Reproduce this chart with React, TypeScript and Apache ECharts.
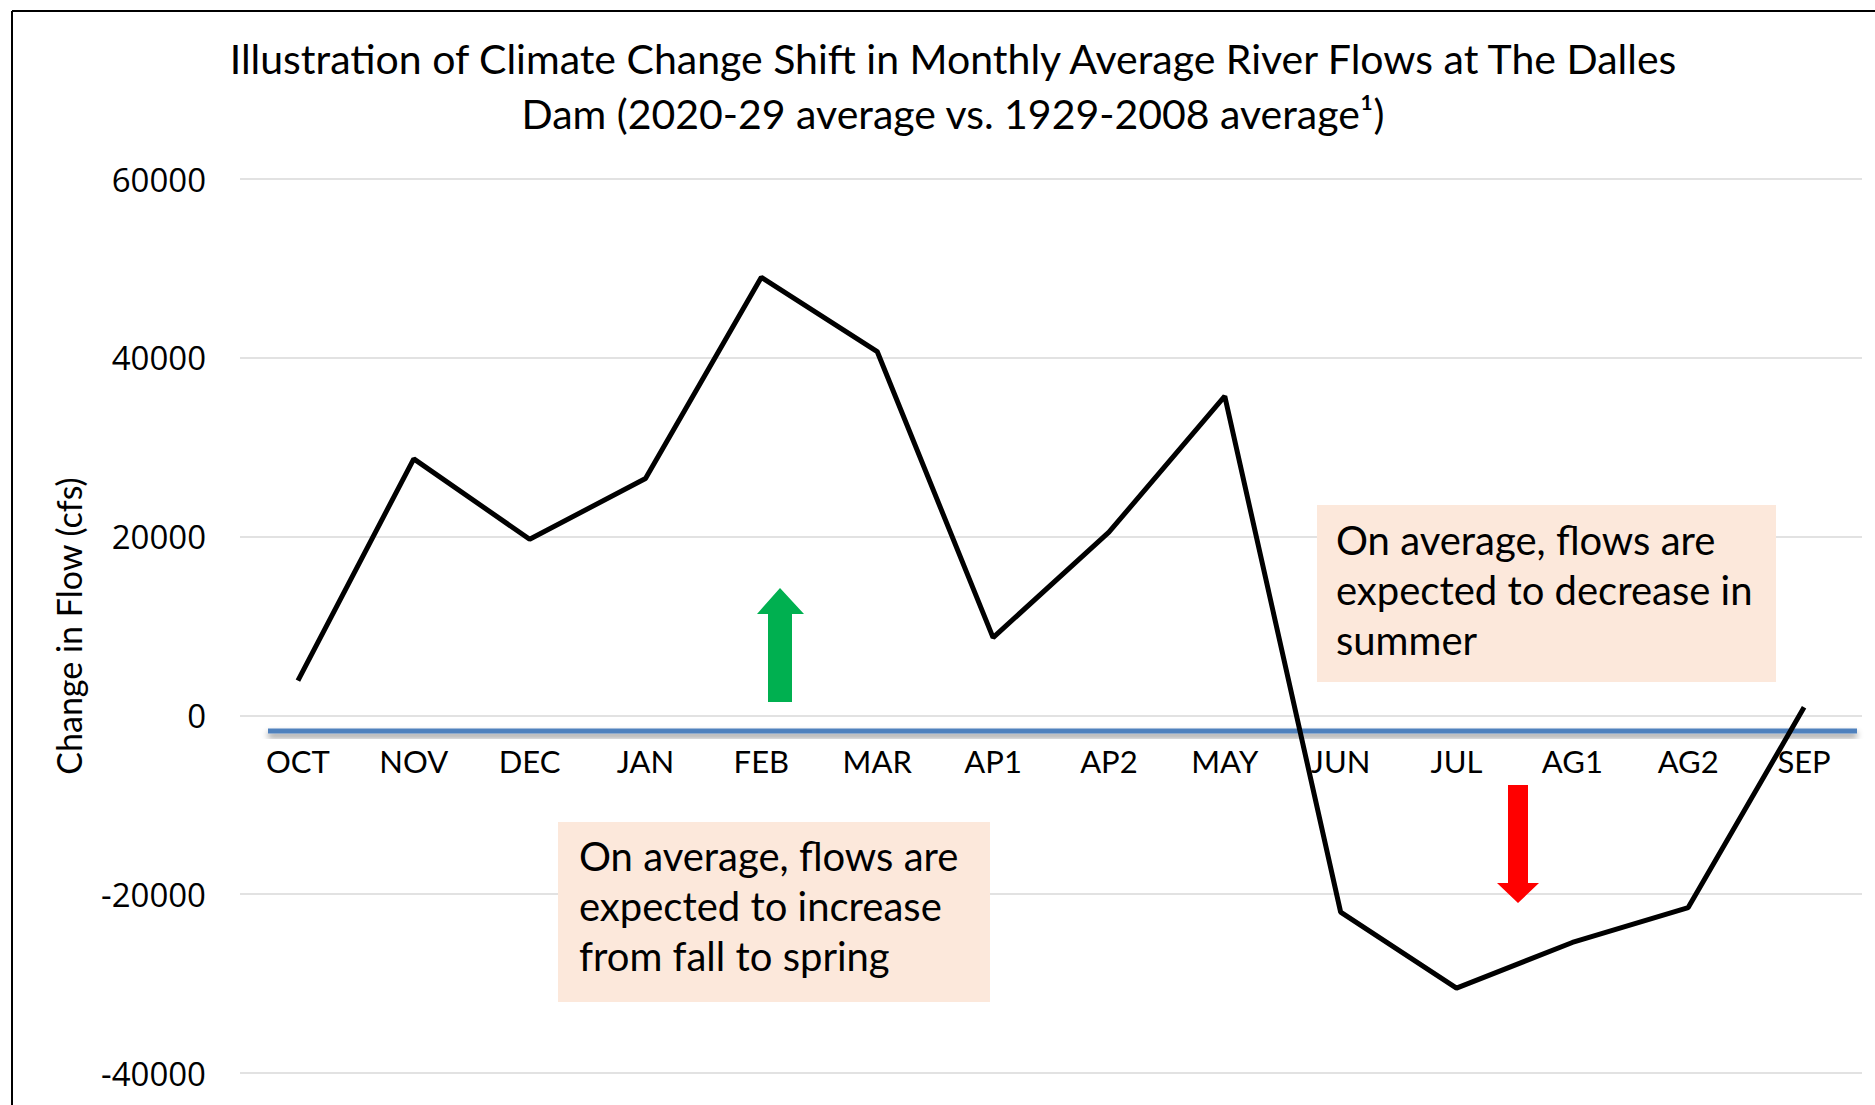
import React, { useEffect, useRef } from "react";
import * as echarts from "echarts";

const months = ["OCT", "NOV", "DEC", "JAN", "FEB", "MAR", "AP1", "AP2", "MAY", "JUN", "JUL", "AG1", "AG2", "SEP"];
const flowChange = [3900, 28700, 19700, 26500, 49000, 40700, 8700, 20500, 35700, -22000, -30500, -25400, -21500, 900];
const yTicks = { min: -40000, max: 60000, interval: 20000 };
const titleLines = [
  "Illustration of Climate Change Shift in Monthly Average River Flows at The Dalles",
  "Dam (2020-29 average vs. 1929-2008 average¹)",
];
const noteIncrease = ["On average, flows are", "expected to increase", "from fall to spring"];
const noteDecrease = ["On average, flows are", "expected to decrease in", "summer"];
const yAxisTitle = "Change in Flow (cfs)";

const FONT = "Lato, 'Open Sans', sans-serif";

const GRID_TOP = 179;
const GRID_BOTTOM = 32;
const GRID_H = 1105 - GRID_TOP - GRID_BOTTOM;

export default function App() {
  const ref = useRef<HTMLDivElement>(null);
  useEffect(() => {
    if (!ref.current) return;
    const chart = echarts.init(ref.current, null, { renderer: "svg" });
    // place the category axis where the value axis crosses zero
    const zeroOffset = -GRID_H * (0 - yTicks.min) / (yTicks.max - yTicks.min);
    chart.setOption({
      animation: false,
      backgroundColor: "#ffffff",
      grid: {
        left: 240,
        right: 13,
        top: GRID_TOP,
        bottom: GRID_BOTTOM,
        containLabel: false,
        outerBoundsMode: "none",
      },
      xAxis: {
        type: "category",
        data: months,
        boundaryGap: true,
        position: "bottom",
        offset: zeroOffset,
        axisLine: { show: false, onZero: false },
        axisTick: { show: false },
        axisLabel: { color: "#000", fontFamily: FONT, fontSize: 31, margin: 30, interval: 0 },
        splitLine: { show: false },
      },
      yAxis: {
        type: "value",
        min: yTicks.min,
        max: yTicks.max,
        interval: yTicks.interval,
        name: yAxisTitle,
        nameLocation: "middle",
        nameRotate: 90,
        nameGap: 155,
        nameTextStyle: { color: "#000", fontFamily: FONT, fontSize: 34 },
        axisLine: { show: false },
        axisTick: { show: false },
        axisLabel: {
          color: "#000",
          fontFamily: "'Open Sans', sans-serif",
          fontSize: 33,
          margin: 34,
          formatter: (v: number) => String(v),
        },
        splitLine: { lineStyle: { color: "#D9D9D9", width: 1.5 } },
      },
      series: [
        {
          type: "line",
          data: flowChange,
          symbol: "none",
          lineStyle: { color: "#000000", width: 5 },
          z: 5,
        },
      ],
      graphic: [
        // frame
        { type: "line", shape: { x1: 12, y1: 11, x2: 1875, y2: 11 }, style: { stroke: "#000", lineWidth: 2 } },
        { type: "line", shape: { x1: 12, y1: 11, x2: 12, y2: 1105 }, style: { stroke: "#000", lineWidth: 2 } },
        // title
        {
          type: "text",
          x: 953,
          y: 31,
          style: {
            text: titleLines.join("\n"),
            fill: "#000",
            fontSize: 41,
            fontFamily: FONT,
            lineHeight: 55,
            align: "center",
            verticalAlign: "top",
          },
        },
        // blue baseline with shadow
        {
          type: "rect",
          z: 1,
          shape: { x: 268, y: 728.5, width: 1589, height: 5 },
          style: {
            fill: "#4F81BD",
            shadowBlur: 6,
            shadowOffsetY: 4,
            shadowColor: "rgba(0,0,0,0.45)",
          },
        },
        // green up arrow
        {
          type: "polygon",
          z: 3,
          shape: {
            points: [
              [780, 588], [804, 614], [792, 614], [792, 702], [768, 702], [768, 614], [757, 614],
            ],
          },
          style: { fill: "#00B050" },
        },
        // red down arrow
        {
          type: "polygon",
          z: 3,
          shape: {
            points: [
              [1508, 785], [1528, 785], [1528, 883], [1539, 883], [1518, 903], [1497, 883], [1508, 883],
            ],
          },
          style: { fill: "#FF0000" },
        },
        // note boxes
        { type: "rect", z: 3, shape: { x: 558, y: 822, width: 432, height: 180 }, style: { fill: "#FCE8DB" } },
        {
          type: "text",
          z: 4,
          x: 579,
          y: 831,
          style: {
            text: noteIncrease.join("\n"),
            fill: "#000",
            fontSize: 40,
            fontFamily: FONT,
            lineHeight: 50,
            align: "left",
            verticalAlign: "top",
          },
        },
        { type: "rect", z: 3, shape: { x: 1317, y: 505, width: 459, height: 177 }, style: { fill: "#FCE8DB" } },
        {
          type: "text",
          z: 4,
          x: 1336,
          y: 515,
          style: {
            text: noteDecrease.join("\n"),
            fill: "#000",
            fontSize: 40,
            fontFamily: FONT,
            lineHeight: 50,
            align: "left",
            verticalAlign: "top",
          },
        },
      ],
    });
    return () => chart.dispose();
  }, []);
  return (
    <div
      ref={ref}
      style={{ position: "absolute", left: 0, top: 0, width: 1875, height: 1105, background: "#fff" }}
    />
  );
}
